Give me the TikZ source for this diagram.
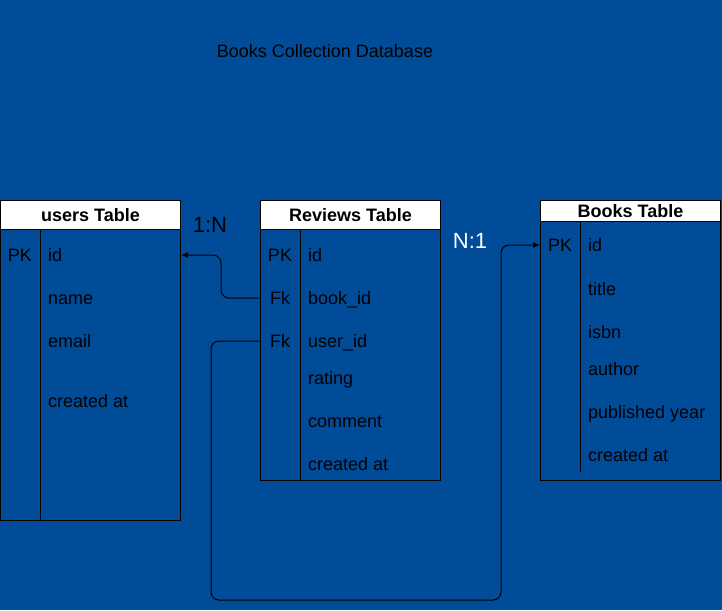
\documentclass[tikz,border=0pt]{standalone}
\usepackage{fontspec}
\setmainfont{Liberation Sans}
\usetikzlibrary{arrows.meta,positioning,calc}
\definecolor{dbblue}{HTML}{004C99}
\tikzset{>={Latex[length=7pt,width=6pt]}}
\tikzset{
  tbl/.style={draw=black,line width=1pt,minimum width=180pt,anchor=north west,inner sep=0pt},
  hdr/.style={draw=black,line width=1pt,fill=white,minimum width=180pt,anchor=north west,inner sep=0pt,font=\fontsize{18}{21}\selectfont\bfseries},
  fld/.style={anchor=west,inner sep=0pt,text height=13pt,text depth=0pt,font=\fontsize{18}{21}\selectfont},
  keyfld/.style={inner sep=0pt,text height=13pt,text depth=0pt,font=\fontsize{18}{21}\selectfont},
  card/.style={inner sep=0pt,font=\fontsize{22}{26}\selectfont},
  link/.style={draw=black,line width=1pt,rounded corners=8pt}
}

\begin{document}
\begin{tikzpicture}[x=1pt,y=-1pt]
  \fill[dbblue] (0,0) rectangle (722,610);
  \useasboundingbox (0,0) rectangle (722,610);
  \node[keyfld] (title) at (325,51) {Books Collection Database};

  % users table
  \node[tbl,minimum height=320pt] (usr) at (0,200) {};
  \node[hdr,minimum height=29pt] (usrhead) at (0,200) {users Table};
  \draw[line width=1pt] ($(usr.north west)+(40,29)$) -- ($(usr.south west)+(40,0)$);
  \node[keyfld] (upk) at (20,255) {PK};
  \node[fld] (uid) at (48,255) {id};
  \node[fld] (uname) at (48,298) {name};
  \node[fld] (umail) at (48,341) {email};
  \node[fld] (ucreated) at (48,401) {created at};

  % reviews table
  \node[tbl,minimum height=280pt] (rev) at (260,200) {};
  \node[hdr,minimum height=29pt] (revhead) at (260,200) {Reviews Table};
  \draw[line width=1pt] ($(rev.north west)+(40,29)$) -- ($(rev.south west)+(40,0)$);
  \node[keyfld] (rpk) at (280,255) {PK};
  \node[keyfld] (rfkbook) at (280,298) {Fk};
  \node[keyfld] (rfkuser) at (280,341) {Fk};
  \node[fld] (rid) at (308,255) {id};
  \node[fld] (rbook) at (308,298) {book\_id};
  \node[fld] (ruser) at (308,341) {user\_id};
  \node[fld] (rrating) at (308,378) {rating};
  \node[fld] (rcomment) at (308,421) {comment};
  \node[fld] (rcreated) at (308,464) {created at};

  % books table
  \node[tbl,minimum height=280pt] (bk) at (540,200) {};
  \node[hdr,minimum height=21pt] (bkhead) at (540,200) {Books Table};
  \draw[line width=1pt] ($(bk.north west)+(40,21)$) -- ($(bk.south west)+(40,-9)$);
  \node[keyfld] (bpk) at (560,245) {PK};
  \node[fld] (bid) at (588,245) {id};
  \node[fld] (btitle) at (588,289) {title};
  \node[fld] (bisbn) at (588,332) {isbn};
  \node[fld] (bauthor) at (588,369) {author};
  \node[fld] (byear) at (588,412) {published year};
  \node[fld] (bcreated) at (588,455) {created at};

  % relations
  \node[card] (onen) at (210,225) {1:N};
  \node[card,text=white] (none) at (470,241) {N:1};
  \coordinate (turn) at (501,600);
  \draw[link,->] (rev.west |- rbook) -- ++(-39,0) |- (usr.east |- uid);
  \draw[link,->] (rev.west |- ruser) -- ++(-49,0) |- (turn) |- (bk.west |- bid);
\end{tikzpicture}
\end{document}
